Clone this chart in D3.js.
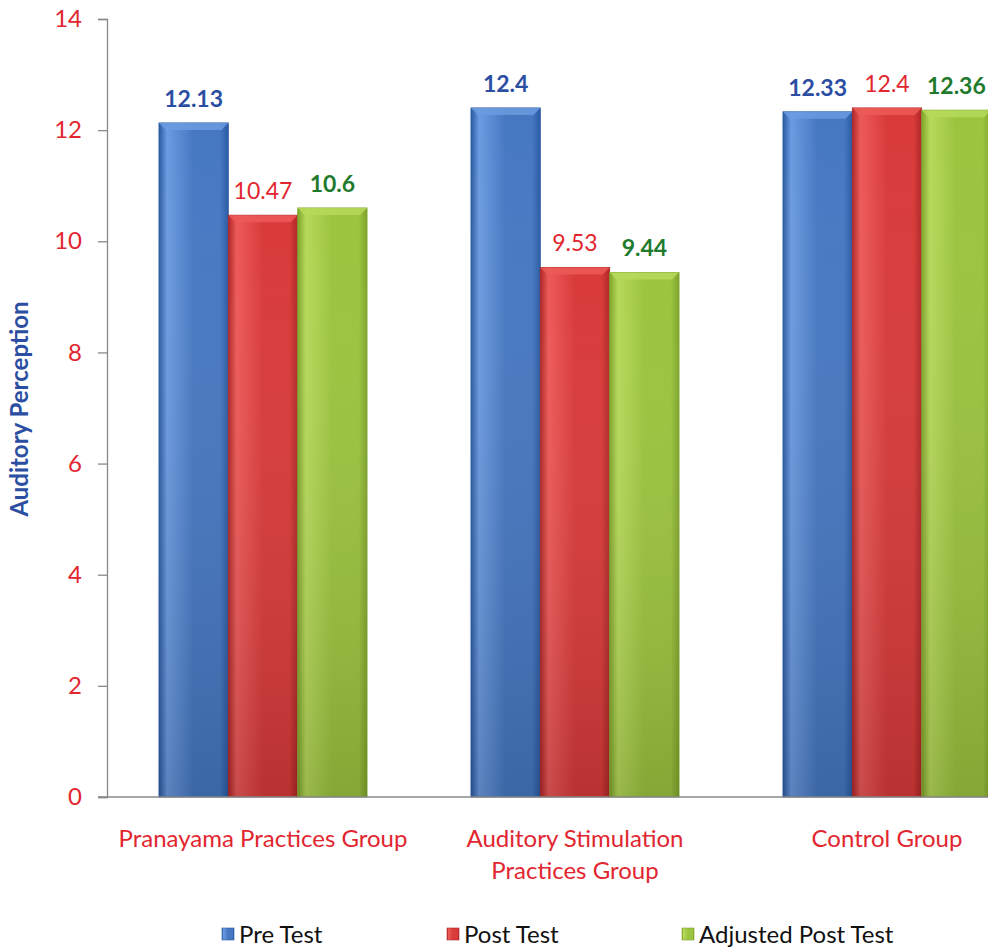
<!DOCTYPE html>
<html><head><meta charset="utf-8">
<script src="https://cdn.jsdelivr.net/npm/d3@7"></script>
<style>
html,body{margin:0;padding:0;background:#fff;overflow:hidden;}
svg{display:block;font-family:Lato,"Open Sans",sans-serif;}
</style></head>
<body><svg id="chart" width="988" height="949"></svg>
<script>
const categories = [["Pranayama Practices Group"], ["Auditory Stimulation", "Practices Group"], ["Control Group"]];
const seriesNames = ["Pre Test", "Post Test", "Adjusted Post Test"];
const preTest = [12.13, 12.4, 12.33];
const postTest = [10.47, 9.53, 12.4];
const adjustedPostTest = [10.6, 9.44, 12.36];
const yTicks = [0, 2, 4, 6, 8, 10, 12, 14];
const yTitle = "Auditory Perception";

const series = [preTest, postTest, adjustedPostTest];
const colors = [
  {light:"#6b9be0", mid:"#4678c2", dark:"#2a5aa3", label:"#2b4ea2", weight:"bold"},
  {light:"#ec5a58", mid:"#d93a3a", dark:"#b02626", label:"#e2262f", weight:"normal"},
  {light:"#b6d95a", mid:"#9cc43e", dark:"#7ea52b", label:"#1f7a2b", weight:"bold"}
];

const svg = d3.select("#chart");
const defs = svg.append("defs");
colors.forEach((c,i)=>{
  const g = defs.append("linearGradient").attr("id","g"+i).attr("x1",0).attr("x2",1).attr("y1",0).attr("y2",0);
  g.append("stop").attr("offset","0%").attr("stop-color",c.dark);
  g.append("stop").attr("offset","12%").attr("stop-color",c.light);
  g.append("stop").attr("offset","50%").attr("stop-color",c.mid);
  g.append("stop").attr("offset","88%").attr("stop-color",c.mid);
  g.append("stop").attr("offset","100%").attr("stop-color",c.dark);
  const v = defs.append("linearGradient").attr("id","v"+i).attr("x1",0).attr("x2",0).attr("y1",0).attr("y2",1);
  v.append("stop").attr("offset","0%").attr("stop-color","#fff").attr("stop-opacity",0.0);
  v.append("stop").attr("offset","100%").attr("stop-color","#000").attr("stop-opacity",0.15);
});

const y = d3.scaleLinear().domain([0,14]).range([797,19]);
const x0 = d3.scaleBand().domain(d3.range(categories.length)).range([107,1043]).paddingInner(0.333).paddingOuter(0.1665);
const x1 = d3.scaleBand().domain(d3.range(series.length)).range([0,x0.bandwidth()]);

// y axis
const yAxis = d3.axisLeft(y).tickValues(yTicks).tickSize(9).tickPadding(16).tickFormat(d3.format("d"));
const ya = svg.append("g").attr("transform","translate(107,0)").call(yAxis);
ya.select(".domain").attr("stroke","#888").attr("stroke-width",1.3);
ya.selectAll(".tick line").attr("stroke","#888").attr("stroke-width",1.3);
ya.selectAll(".tick text").attr("fill","#e2262f").style("font-size","24px").style("font-family","Lato,sans-serif");

// bars
series.forEach((vals,si)=>{
  const gs = svg.append("g");
  vals.forEach((v,ci)=>{
    const bx = x0(ci)+x1(si), bw = x1.bandwidth(), by = y(v), bh = y(0)-y(v);
    gs.append("rect").attr("x",bx).attr("y",by).attr("width",bw).attr("height",bh)
      .attr("fill","url(#g"+si+")").attr("stroke",colors[si].dark).attr("stroke-width",0.8);
    gs.append("rect").attr("x",bx).attr("y",by).attr("width",bw).attr("height",bh).attr("fill","url(#v"+si+")");
    // top bevel
    gs.append("polygon").attr("points",[[bx,by],[bx+bw,by],[bx+bw-7,by+7],[bx+7,by+7]].map(p=>p.join(",")).join(" "))
      .attr("fill",colors[si].light).attr("opacity",0.85);
    gs.append("text").attr("x",bx+bw/2).attr("y",by-16).attr("text-anchor","middle")
      .attr("fill",colors[si].label).attr("font-weight",colors[si].weight).style("font-size","23px").text(v);
  });
});

// x axis baseline
svg.append("line").attr("x1",98).attr("x2",1043).attr("y1",y(0)).attr("y2",y(0)).attr("stroke","#888").attr("stroke-width",1.3);

// category labels
categories.forEach((lines,ci)=>{
  const t = svg.append("text").attr("x",x0(ci)+x0.bandwidth()/2).attr("y",847).attr("text-anchor","middle")
    .attr("fill","#e2262f").style("font-size","24px");
  lines.forEach((l,li)=>t.append("tspan").attr("x",x0(ci)+x0.bandwidth()/2).attr("dy",li?32:0).text(l));
});

// y title
svg.append("text").attr("transform","translate(28,409) rotate(-90)").attr("text-anchor","middle")
  .attr("fill","#2b4ea2").attr("font-weight","bold").style("font-size","24px").text(yTitle);

// legend
const legendX = [222, 447, 682];
seriesNames.forEach((n,i)=>{
  const g = svg.append("g").attr("transform",`translate(${legendX[i]},935)`);
  g.append("rect").attr("x",0).attr("y",-7).attr("width",12).attr("height",12).attr("fill","url(#g"+i+")").attr("stroke",colors[i].dark).attr("stroke-width",0.6);
  g.append("text").attr("x",17).attr("y",8).attr("fill","#111").style("font-size","24px").text(n);
});
</script></body></html>
